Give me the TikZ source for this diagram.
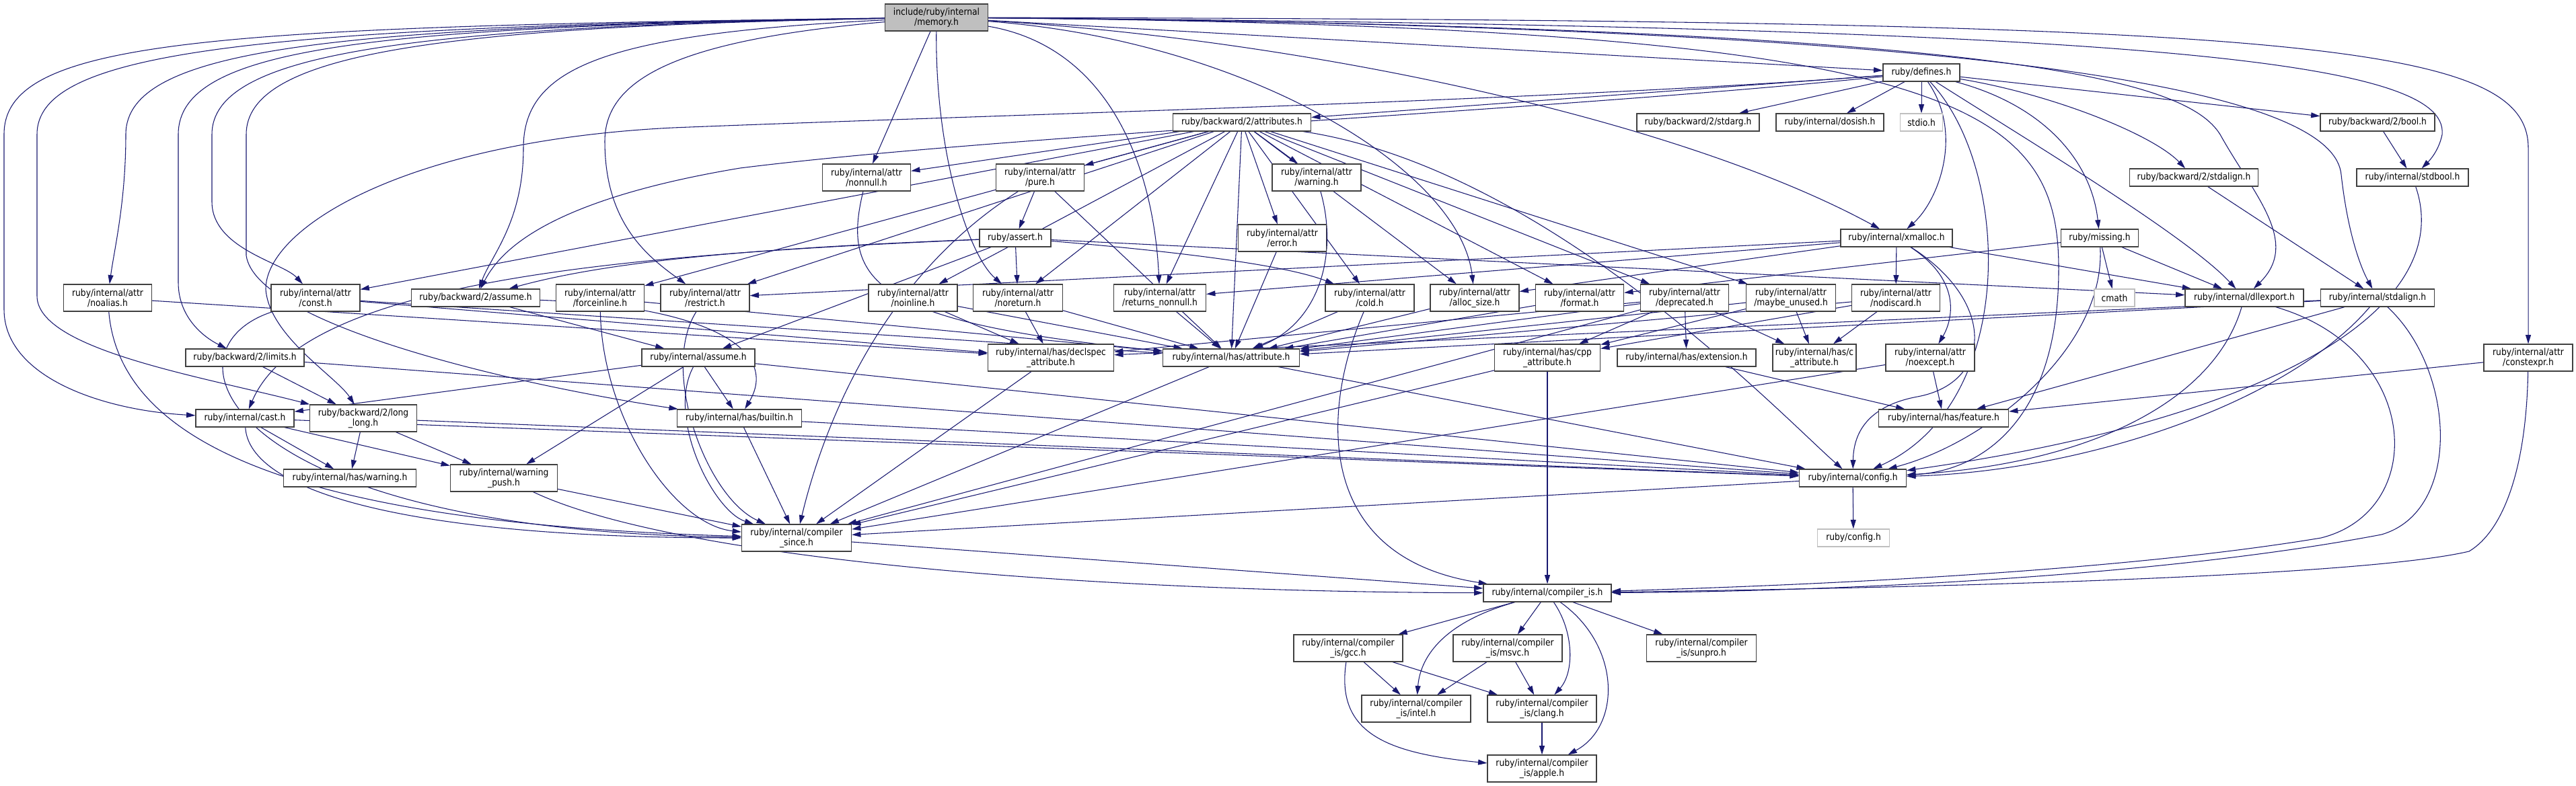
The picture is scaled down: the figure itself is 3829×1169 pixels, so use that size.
\documentclass[tikz,border=0pt]{standalone}
\usepackage{fontspec}
\setmainfont{DejaVu Sans}[FakeStretch=0.88]
\usetikzlibrary{arrows.meta}
\definecolor{edgeBlue}{HTML}{191970}
\definecolor{boxLine}{HTML}{404040}
\definecolor{sysLine}{HTML}{BFBFBF}
\definecolor{rootFill}{HTML}{BFBFBF}
\pgfdeclarelayer{edges}
\pgfsetlayers{edges,main}

\begin{document}
\begin{tikzpicture}[
  x=0.75pt, y=-0.75pt,
  font=\fontsize{10.5}{11.5}\selectfont,
  hdr/.style={draw=boxLine, line width=0.9pt, fill=white, align=center, inner sep=1pt, minimum height=19.5pt},
  two/.style={minimum height=30pt},
  wd/.style={minimum width=#1*0.75pt},
  rootbox/.style={hdr, fill=rootFill},
  sysbox/.style={hdr, draw=sysLine},
  dep/.style={draw=edgeBlue, line width=0.8pt, -{Triangle[length=10pt,width=6pt]}}
]
  \useasboundingbox (0,0) rectangle (3829,1169);

  % top rows
  \node[rootbox, wd=153, two] (M) at (1392,26) {include/ruby/internal\\/memory.h};
  \node[hdr, wd=114] (defines) at (2856,108) {ruby/defines.h};
  \node[hdr, wd=205] (attrs) at (1846,182) {ruby/backward/2/attributes.h};
  \node[hdr, wd=182] (stdarg) at (2524,182) {ruby/backward/2/stdarg.h};
  \node[hdr, wd=160] (dosish) at (2720,182) {ruby/internal/dosish.h};
  \node[sysbox, wd=63] (stdio) at (2856,182) {stdio.h};
  \node[hdr, wd=170] (boolH) at (3534,182) {ruby/backward/2/bool.h};
  \node[hdr, wd=131, two] (nonnull) at (1288,264) {ruby/internal/attr\\/nonnull.h};
  \node[hdr, wd=131, two] (pure) at (1546,264) {ruby/internal/attr\\/pure.h};
  \node[hdr, wd=132, two] (warnattr) at (1957,264) {ruby/internal/attr\\/warning.h};
  \node[hdr, wd=191] (bstdalign) at (3261,264) {ruby/backward/2/stdalign.h};
  \node[hdr, wd=166] (stdbool) at (3586,264) {ruby/internal/stdbool.h};
  \node[hdr, wd=106] (assertH) at (1509,354) {ruby/assert.h};
  \node[hdr, wd=131, two] (errorH) at (1906,354) {ruby/internal/attr\\/error.h};
  \node[hdr, wd=166] (xmalloc) at (2819,354) {ruby/internal/xmalloc.h};
  \node[hdr, wd=115] (missing) at (3121,354) {ruby/missing.h};

  % attr row
  \node[hdr, wd=131, two] (noalias) at (160,443) {ruby/internal/attr\\/noalias.h};
  \node[hdr, wd=132, two] (constH) at (469,443) {ruby/internal/attr\\/const.h};
  \node[hdr, wd=191] (bassume) at (707,443) {ruby/backward/2/assume.h};
  \node[hdr, wd=131, two] (forceinline) at (892,443) {ruby/internal/attr\\/forceinline.h};
  \node[hdr, wd=132, two] (restrict) at (1048,443) {ruby/internal/attr\\/restrict.h};
  \node[hdr, wd=132, two] (noinline) at (1357,443) {ruby/internal/attr\\/noinline.h};
  \node[hdr, wd=133, two] (noreturn) at (1513,443) {ruby/internal/attr\\/noreturn.h};
  \node[hdr, wd=137, two] (retnonnull) at (1724,443) {ruby/internal/attr\\/returns\_nonnull.h};
  \node[hdr, wd=132, two] (cold) at (2036,443) {ruby/internal/attr\\/cold.h};
  \node[hdr, wd=132, two] (allocsize) at (2192,443) {ruby/internal/attr\\/alloc\_size.h};
  \node[hdr, wd=131, two] (format) at (2348,443) {ruby/internal/attr\\/format.h};
  \node[hdr, wd=131, two] (deprecated) at (2504,443) {ruby/internal/attr\\/deprecated.h};
  \node[hdr, wd=133, two] (maybeunused) at (2662,443) {ruby/internal/attr\\/maybe\_unused.h};
  \node[hdr, wd=131, two] (nodiscard) at (2818,443) {ruby/internal/attr\\/nodiscard.h};
  \node[sysbox, wd=60] (cmath) at (3143,443) {cmath};
  \node[hdr, wd=176] (dllexport) at (3336,443) {ruby/internal/dllexport.h};
  \node[hdr, wd=169] (istdalign) at (3534,443) {ruby/internal/stdalign.h};

  % has row
  \node[hdr, wd=176] (limits) at (364,532) {ruby/backward/2/limits.h};
  \node[hdr, wd=168] (iassume) at (1038,532) {ruby/internal/assume.h};
  \node[hdr, wd=187, two] (declspec) at (1562,532) {ruby/internal/has/declspec\\\_attribute.h};
  \node[hdr, wd=203] (hasattr) at (1830,532) {ruby/internal/has/attribute.h};
  \node[hdr, wd=157, two] (cppattr) at (2300,532) {ruby/internal/has/cpp\\\_attribute.h};
  \node[hdr, wd=206] (extension) at (2507,532) {ruby/internal/has/extension.h};
  \node[hdr, wd=124, two] (cattr) at (2697,532) {ruby/internal/has/c\\\_attribute.h};
  \node[hdr, wd=132, two] (noexcept) at (2869,532) {ruby/internal/attr\\/noexcept.h};
  \node[hdr, wd=132, two] (constexpr) at (3758,532) {ruby/internal/attr\\/constexpr.h};

  \node[hdr, wd=146] (cast) at (364,622) {ruby/internal/cast.h};
  \node[hdr, wd=159, two] (longlong) at (540,622) {ruby/backward/2/long\\\_long.h};
  \node[hdr, wd=185] (builtin) at (1099,622) {ruby/internal/has/builtin.h};
  \node[hdr, wd=193] (feature) at (2889,622) {ruby/internal/has/feature.h};
  \node[hdr, wd=197] (haswarn) at (520,711) {ruby/internal/has/warning.h};
  \node[hdr, wd=159, two] (warnpush) at (749,711) {ruby/internal/warning\\\_push.h};
  \node[hdr, wd=159] (config) at (2754,711) {ruby/internal/config.h};
  \node[hdr, wd=163, two] (since) at (1184,800) {ruby/internal/compiler\\\_since.h};
  \node[sysbox, wd=107] (rconfig) at (2755,800) {ruby/config.h};

  % compiler_is tree
  \node[hdr, wd=190] (compis) at (2300,882) {ruby/internal/compiler\_is.h};
  \node[hdr, wd=162, two] (gcc) at (2004,964) {ruby/internal/compiler\\\_is/gcc.h};
  \node[hdr, wd=162, two] (msvc) at (2241,964) {ruby/internal/compiler\\\_is/msvc.h};
  \node[hdr, wd=163, two] (sunpro) at (2529,964) {ruby/internal/compiler\\\_is/sunpro.h};
  \node[hdr, wd=162, two] (intel) at (2105,1054) {ruby/internal/compiler\\\_is/intel.h};
  \node[hdr, wd=162, two] (clang) at (2292,1054) {ruby/internal/compiler\\\_is/clang.h};
  \node[hdr, wd=162, two] (apple) at (2292,1143) {ruby/internal/compiler\\\_is/apple.h};

  \begin{pgfonlayer}{edges}
  % memory.h
  \draw[dep] (M) -- (nonnull);
  \draw[dep] (M) -- (defines);
  \draw[dep] (M) .. controls (1950,60) and (2500,180) .. (xmalloc);
  \draw[dep] (M) .. controls (1850,60) and (2170,250) .. (allocsize);
  \draw[dep] (M) .. controls (1650,70) and (1715,250) .. (retnonnull);
  \draw[dep] (M) .. controls (1390,230) and (1440,380) .. (noreturn);
  \draw[dep] (M) .. controls (1000,60) and (899,120) .. (899,210) .. controls (899,330) and (960,380) .. (restrict);
  \draw[dep] (M) .. controls (900,50) and (778,100) .. (778,220) .. controls (778,330) and (730,380) .. (bassume);
  \draw[dep] (M) .. controls (650,40) and (366,80) .. (366,200) -- (366,380) .. controls (380,480) and (750,570) .. (builtin);
  \draw[dep] (M) .. controls (600,40) and (315,80) .. (315,200) -- (315,300) .. controls (315,370) and (420,390) .. (constH);
  \draw[dep] (M) .. controls (550,40) and (265,70) .. (265,200) -- (265,420) .. controls (265,470) and (300,500) .. (limits);
  \draw[dep] (M) .. controls (500,40) and (187,70) .. (187,200) .. controls (187,300) and (170,370) .. (noalias);
  \draw[dep] (M) .. controls (350,40) and (55,80) .. (55,200) -- (55,440) .. controls (55,520) and (300,560) .. (longlong);
  \draw[dep] (M) .. controls (300,40) and (6,60) .. (6,200) -- (6,460) .. controls (6,560) and (150,610) .. (cast);
  \draw[dep] (M) .. controls (2900,40) and (3060,150) .. (3060,400) .. controls (3060,620) and (2950,700) .. (config);
  \draw[dep] (M) .. controls (3000,40) and (3250,120) .. (3300,200) .. controls (3350,290) and (3420,360) .. (dllexport);
  \draw[dep] (M) .. controls (3100,40) and (3470,150) .. (3480,260) .. controls (3490,350) and (3510,400) .. (istdalign);
  \draw[dep] (M) .. controls (3200,40) and (3640,90) .. (3630,200) .. controls (3625,225) and (3610,240) .. (stdbool);
  \draw[dep] (M) .. controls (3400,30) and (3758,60) .. (3758,220) -- (constexpr);

  % ruby/defines.h
  \foreach \t in {attrs,stdarg,dosish,stdio,boolH}
    \draw[dep] (defines) -- (\t);
  \draw[dep] (defines) .. controls (3050,140) and (3200,200) .. (bstdalign);
  \draw[dep] (defines) .. controls (3050,160) and (3110,250) .. (missing);
  \draw[dep] (defines) .. controls (2920,200) and (2880,300) .. (xmalloc);
  \draw[dep] (defines) .. controls (2990,250) and (3000,600) .. (config);
  \draw[dep] (defines) .. controls (3000,200) and (3250,350) .. (dllexport);
  \draw[dep] (defines) .. controls (2300,150) and (1500,170) .. (1000,190) .. controls (600,210) and (395,340) .. (395,430) .. controls (400,500) and (500,560) .. (longlong);
  \draw[dep] (defines) .. controls (2300,165) and (1500,200) .. (1100,250) .. controls (800,300) and (740,380) .. (bassume);

  % ruby/backward/2/attributes.h
  \foreach \t in {nonnull,pure,warnattr,errorH,hasattr,cold,allocsize,format,deprecated,maybeunused,noinline,noreturn,retnonnull,restrict,forceinline,constH}
    \draw[dep] (attrs) -- (\t);
  \draw[dep] (attrs) .. controls (2300,250) and (2650,620) .. (config);

  % pure.h, assert.h
  \draw[dep] (pure) -- (assertH);
  \draw[dep] (pure) -- (hasattr);
  \draw[dep] (pure) .. controls (1300,420) and (1220,650) .. (since);
  \draw[dep] (assertH) -- (noreturn);
  \draw[dep] (assertH) -- (iassume);
  \draw[dep] (assertH) -- (dllexport);
  \draw[dep] (assertH) .. controls (1700,370) and (1900,390) .. (cold);
  \draw[dep] (assertH) .. controls (1100,370) and (900,390) .. (bassume);
  \draw[dep] (assertH) .. controls (900,380) and (450,420) .. (cast);

  % attr headers
  \draw[dep] (nonnull) .. controls (1250,420) and (1300,480) .. (hasattr);
  \draw[dep] (warnattr) .. controls (1990,380) and (1960,480) .. (hasattr);
  \draw[dep] (errorH) -- (hasattr);
  \draw[dep] (restrict) .. controls (980,550) and (1050,740) .. (since);
  \draw[dep] (noinline) -- (hasattr);
  \draw[dep] (noinline) -- (declspec);
  \draw[dep] (noreturn) -- (hasattr);
  \draw[dep] (noreturn) -- (declspec);
  \draw[dep] (retnonnull) -- (hasattr);
  \draw[dep] (forceinline) .. controls (895,620) and (1000,780) .. (since);
  \draw[dep] (forceinline) -- (hasattr);
  \draw[dep] (noalias) .. controls (180,680) and (500,780) .. (since);
  \draw[dep] (noalias) -- (declspec);
  \draw[dep] (constH) .. controls (230,520) and (330,790) .. (since);
  \draw[dep] (constH) -- (hasattr);
  \draw[dep] (constH) -- (declspec);
  \draw[dep] (cold) .. controls (1960,620) and (1960,830) .. (compis);
  \draw[dep] (cold) -- (hasattr);
  \draw[dep] (allocsize) -- (hasattr);
  \draw[dep] (format) -- (hasattr);
  \foreach \t in {hasattr,declspec,cppattr,extension,cattr,since}
    \draw[dep] (deprecated) -- (\t);
  \foreach \t in {cppattr,cattr,hasattr}
    \draw[dep] (maybeunused) -- (\t);
  \foreach \t in {cppattr,cattr,hasattr}
    \draw[dep] (nodiscard) -- (\t);
  \draw[dep] (noexcept) -- (feature);
  \draw[dep] (noexcept) -- (since);
  \draw[dep] (constexpr) -- (feature);
  \draw[dep] (constexpr) .. controls (3755,700) and (3720,790) .. (3670,820) .. controls (3500,860) and (2800,875) .. (compis);

  % assume, cast, long_long
  \draw[dep] (bassume) -- (iassume);
  \draw[dep] (bassume) .. controls (1050,455) and (1160,520) .. (builtin);
  \foreach \t in {cast,builtin,warnpush,config}
    \draw[dep] (iassume) -- (\t);
  \draw[dep] (iassume) .. controls (990,620) and (1060,760) .. (since);
  \draw[dep] (limits) -- (longlong);
  \draw[dep] (limits) -- (config);
  \draw[dep] (cast) -- (haswarn);
  \draw[dep] (cast) -- (warnpush);
  \draw[dep] (cast) -- (config);
  \draw[dep] (cast) .. controls (370,730) and (600,800) .. (since);
  \draw[dep] (longlong) -- (haswarn);
  \draw[dep] (longlong) -- (warnpush);
  \draw[dep] (longlong) -- (config);
  \draw[dep] (warnpush) -- (since);
  \draw[dep] (warnpush) .. controls (1000,830) and (1600,880) .. (compis);
  \draw[dep] (builtin) -- (since);
  \draw[dep] (builtin) -- (config);
  \draw[dep] (hasattr) -- (since);
  \draw[dep] (hasattr) -- (config);
  \draw[dep] (declspec) -- (since);
  \draw[dep] (cppattr) -- (compis);
  \draw[dep] (cppattr) -- (since);
  \draw[dep] (extension) -- (feature);
  \draw[dep] (config) -- (rconfig);
  \draw[dep] (config) -- (since);
  \draw[dep] (since) -- (compis);

  % right side
  \foreach \t in {nodiscard,allocsize,retnonnull,restrict,dllexport}
    \draw[dep] (xmalloc) -- (\t);
  \draw[dep] (xmalloc) .. controls (2920,420) and (2900,480) .. (noexcept);
  \draw[dep] (xmalloc) .. controls (2970,450) and (2960,570) .. (2850,590) .. controls (2770,605) and (2755,650) .. (config);
  \draw[dep] (missing) -- (cmath);
  \draw[dep] (missing) -- (dllexport);
  \draw[dep] (missing) -- (format);
  \draw[dep] (missing) .. controls (3130,520) and (2950,660) .. (config);
  \draw[dep] (dllexport) .. controls (3290,600) and (3100,690) .. (config);
  \draw[dep] (dllexport) .. controls (3600,520) and (3610,760) .. (3450,800) .. controls (3150,850) and (2700,870) .. (compis);
  \draw[dep] (istdalign) -- (hasattr);
  \draw[dep] (istdalign) -- (declspec);
  \draw[dep] (istdalign) -- (feature);
  \draw[dep] (istdalign) .. controls (3400,600) and (3100,700) .. (config);
  \draw[dep] (istdalign) .. controls (3650,550) and (3660,760) .. (3540,795) .. controls (3200,860) and (2700,880) .. (compis);
  \draw[dep] (bstdalign) -- (istdalign);
  \draw[dep] (stdbool) .. controls (3650,450) and (3400,620) .. (config);
  \draw[dep] (boolH) -- (stdbool);

  % compiler_is
  \draw[dep] (compis) -- (gcc);
  \draw[dep] (compis) -- (msvc);
  \draw[dep] (compis) -- (sunpro);
  \draw[dep] (compis) .. controls (2130,930) and (2110,990) .. (intel);
  \draw[dep] (compis) .. controls (2340,940) and (2340,1000) .. (clang);
  \draw[dep] (compis) .. controls (2410,960) and (2410,1080) .. (apple);
  \draw[dep] (gcc) -- (intel);
  \draw[dep] (gcc) -- (clang);
  \draw[dep] (gcc) .. controls (1985,1090) and (2060,1120) .. (apple);
  \draw[dep] (msvc) -- (intel);
  \draw[dep] (msvc) -- (clang);
  \draw[dep] (clang) -- (apple);
  \end{pgfonlayer}
\end{tikzpicture}
\end{document}
